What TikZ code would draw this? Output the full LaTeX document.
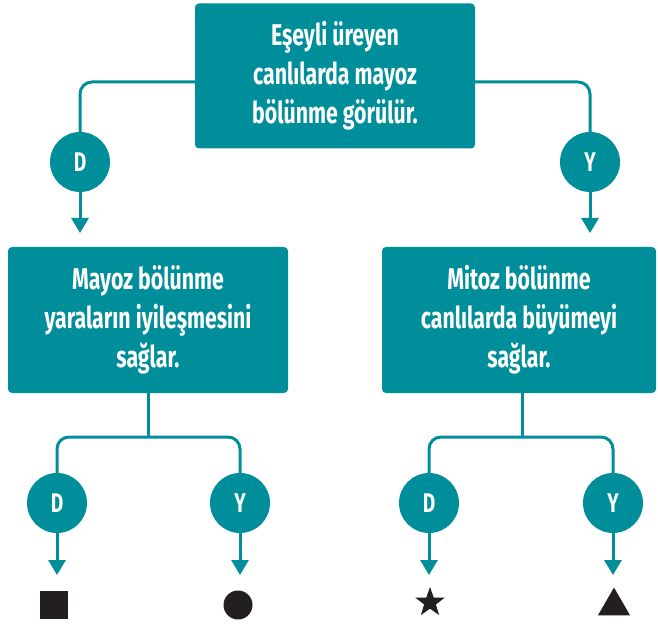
\documentclass[tikz,border=0pt]{standalone}
\usepackage{fontspec}
\setmainfont[FakeStretch=0.71]{Fira Sans}
\usetikzlibrary{arrows.meta,shapes.geometric,calc}
\definecolor{teal1}{RGB}{0,142,155}
\definecolor{ink}{RGB}{35,31,32}
\begin{document}
\begin{tikzpicture}[x=1pt,y=-1pt,
  box/.style={fill=teal1, rounded corners=4pt, text=white, align=center,
    font=\fontsize{30}{39}\selectfont\bfseries, inner sep=0pt},
  dot/.style={circle, fill=teal1, minimum size=60pt, inner sep=0pt, text=white,
    font=\fontsize{27}{27}\selectfont\bfseries},
  conn/.style={draw=teal1, line width=3pt, rounded corners=12pt},
  arr/.style={draw=teal1, line width=3pt, -{Triangle[width=17pt,length=15pt]}},
  shp/.style={fill=ink, inner sep=0pt, draw=none},
]
\useasboundingbox (0,0) rectangle (658,628);
% boxes
\node[box, minimum width=280pt, minimum height=145pt] (top) at (335,76)
  {Eşeyli üreyen\\canlılarda mayoz\\bölünme görülür.};
\node[box, minimum width=280pt, minimum height=146pt] (lb) at (148,320)
  {Mayoz bölünme\\yaraların iyileşmesini\\sağlar.};
\node[box, minimum width=274pt, minimum height=146pt] (rb) at (519,320)
  {Mitoz bölünme\\canlılarda büyümeyi\\sağlar.};
% decision circles
\node[dot] (d1) at (80,162) {D};
\node[dot] (y1) at (590,162) {Y};
\node[dot] (d2) at (57,503) {D};
\node[dot] (y2) at (240,503) {Y};
\node[dot] (d3) at (429,503) {D};
\node[dot] (y3) at (613,503) {Y};
% result symbols
\node[shp, minimum size=28pt] (s1) at (54,605) {};
\node[shp, circle, minimum size=29pt] (s2) at (238,605) {};
\node[shp, star, star points=5, star point ratio=2.5, minimum size=31pt] (s3) at (430,602.5) {};
\node[shp, regular polygon, regular polygon sides=3, minimum size=37pt] (s4) at (614,606) {};
% junctions and arrow ends
\coordinate (j1) at (148,437);
\coordinate (j2) at (522,437);
\coordinate (a1) at (80,233);
\coordinate (a2) at (590,233);
\coordinate (b1) at (57,575);
\coordinate (b2) at (240,575);
\coordinate (b3) at (429,575);
\coordinate (b4) at (613,575);
% connectors
\draw[conn] ($(top.west)+(0,6)$) -| (d1.north);
\draw[conn] ($(top.east)+(0,6)$) -| (y1.north);
\draw[arr] (d1.south) -- (a1);
\draw[arr] (y1.south) -- (a2);
\draw[conn] (lb.south -| j1) -- (j1);
\draw[conn] (d2.north) |- (j1) -| (y2.north);
\draw[conn] (rb.south -| j2) -- (j2);
\draw[conn] (d3.north) |- (j2) -| (y3.north);
\draw[arr] (d2.south) -- (b1);
\draw[arr] (y2.south) -- (b2);
\draw[arr] (d3.south) -- (b3);
\draw[arr] (y3.south) -- (b4);
\end{tikzpicture}
\end{document}
